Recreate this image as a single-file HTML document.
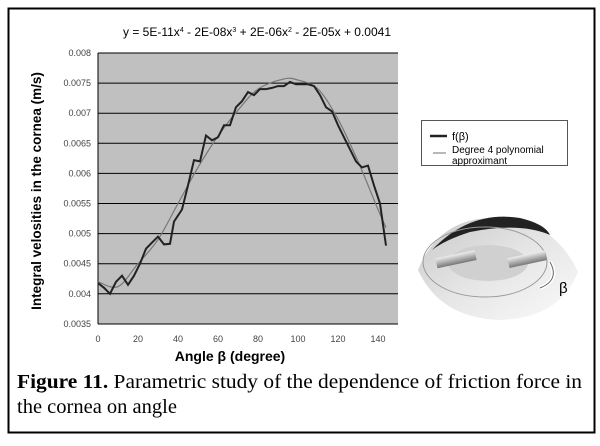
<!DOCTYPE html>
<html><head><meta charset="utf-8"><style>
body{margin:0;background:#fff;width:600px;height:441px;overflow:hidden;font-family:"Liberation Sans",sans-serif}
</style></head><body>
<svg width="600" height="441" xmlns="http://www.w3.org/2000/svg" font-family="Liberation Sans, sans-serif">
<defs>
<linearGradient id="eg" x1="0" y1="0" x2="1" y2="1"><stop offset="0" stop-color="#c8c8c8"/><stop offset="0.5" stop-color="#e6e6e6"/><stop offset="1" stop-color="#fafafa"/></linearGradient>
<linearGradient id="cy" x1="0" y1="0" x2="0" y2="1"><stop offset="0" stop-color="#eee"/><stop offset="1" stop-color="#777"/></linearGradient>
</defs>
<rect x="8.5" y="8.5" width="586" height="424" fill="#fff" stroke="#000" stroke-width="2"/>
<text x="257" y="36" font-size="12" text-anchor="middle">y = 5E-11x<tspan dy="-4" font-size="7">4</tspan><tspan dy="4"> - 2E-08x</tspan><tspan dy="-4" font-size="7">3</tspan><tspan dy="4"> + 2E-06x</tspan><tspan dy="-4" font-size="7">2</tspan><tspan dy="4"> - 2E-05x + 0.0041</tspan></text>
<rect x="98" y="53" width="300" height="271" fill="#c0c0c0"/>
<g id="grid" stroke="#000" stroke-width="1"></g>
<line x1="98" y1="53" x2="98" y2="324" stroke="#000"/>
<line x1="98" y1="324" x2="398" y2="324" stroke="#000"/>
<g id="yl" font-size="9" fill="#444" text-anchor="end"></g>
<g id="xl" font-size="9" fill="#444" text-anchor="middle"></g>
<path id="poly" fill="none" stroke="#777" stroke-width="1.2"/>
<path id="dat" fill="none" stroke="#222" stroke-width="2"/>
<text transform="translate(41,191) rotate(-90)" font-size="13.5" font-weight="bold" text-anchor="middle">Integral velosities in the cornea (m/s)</text>
<text x="230" y="361" font-size="14" font-weight="bold" text-anchor="middle">Angle β (degree)</text>
<rect x="421.5" y="120.5" width="146" height="45" fill="#fff" stroke="#555"/>
<line x1="430" y1="136" x2="447" y2="136" stroke="#222" stroke-width="2.5"/>
<text x="452" y="140" font-size="11">f(β)</text>
<line x1="433" y1="153" x2="446" y2="153" stroke="#888" stroke-width="1.2"/>
<text x="452" y="153" font-size="10">Degree 4 polynomial</text>
<text x="452" y="164" font-size="10">approximant</text>
<g>
<path d="M418 270 Q440 215 500 218 Q555 222 578 272 Q560 318 500 320 Q440 318 418 270Z" fill="url(#eg)"/>
<path d="M432 250 Q470 210 520 218 Q545 224 550 235 Q520 222 470 232 Q445 240 432 250Z" fill="#222"/>
<ellipse cx="485" cy="262" rx="62" ry="35" fill="none" stroke="#999"/>
<ellipse cx="488" cy="263" rx="40" ry="18" fill="#d0d0d0"/>
<rect x="436" y="254" width="40" height="10" fill="url(#cy)" transform="rotate(-12 457 259)"/>
<rect x="508" y="254" width="38" height="10" fill="url(#cy)" transform="rotate(-12 528 259)"/>
<path d="M550 262 Q560 280 540 288" fill="none" stroke="#fff" stroke-width="4"/>
<path d="M550 262 Q560 280 540 288" fill="none" stroke="#666" stroke-width="1"/>
<text x="559" y="293" font-size="15">β</text>
</g>
<text x="17" y="388" font-family="Liberation Serif, serif" font-size="20.5" textLength="565" lengthAdjust="spacingAndGlyphs"><tspan font-weight="bold">Figure 11.</tspan> Parametric study of the dependence of friction force in</text>
<text x="17" y="413" font-family="Liberation Serif, serif" font-size="20.5">the cornea on angle</text>
</svg>
<script>
var X=d=>98+d*2,Y=v=>53+(0.008-v)/0.0005*30.1,ns="http://www.w3.org/2000/svg";
var g=document.getElementById('grid'),yl=document.getElementById('yl'),xl=document.getElementById('xl');
["0.008","0.0075","0.007","0.0065","0.006","0.0055","0.005","0.0045","0.004","0.0035"].forEach(s=>{var y=Y(+s);
if(+s>0.0036){var l=document.createElementNS(ns,'line');l.setAttribute('x1',98);l.setAttribute('x2',398);l.setAttribute('y1',y);l.setAttribute('y2',y);g.appendChild(l);}
var t=document.createElementNS(ns,'text');t.setAttribute('x',91);t.setAttribute('y',y+3);t.textContent=s;yl.appendChild(t);});
for(var d=0;d<=140;d+=20){var t=document.createElementNS(ns,'text');t.setAttribute('x',X(d));t.setAttribute('y',342);t.textContent=d;xl.appendChild(t);}
var D=[[0,.00418],[3,.0041],[6,.004],[9,.0042],[12,.0043],[15,.00415],[18,.0043],[21,.0045],[24,.00475],[27,.00485],[30,.00495],[33,.00482],[36,.00483],[38,.0052],[42,.0054],[45,.0058],[48,.00622],[51,.0062],[54,.00663],[57,.00655],[60,.0066],[63,.0068],[66,.0068],[69,.0071],[72,.0072],[75,.00735],[78,.0073],[81,.0074],[84,.0074],[87,.00742],[90,.00745],[93,.00745],[96,.00752],[99,.00748],[102,.00748],[105,.00748],[108,.00745],[111,.0073],[114,.0071],[117,.00703],[120,.0068],[123,.0066],[126,.0064],[129,.0062],[132,.0061],[135,.00613],[138,.0058],[141,.0055],[144,.0048]];
document.getElementById('dat').setAttribute('d','M'+D.map(p=>X(p[0]).toFixed(1)+' '+Y(p[1]).toFixed(1)).join(' L'));
var P=[[0,.0042],[10,.00412],[20,.0045],[30,.0049],[40,.0055],[50,.0061],[60,.00662],[70,.00705],[80,.0074],[93,.00757],[100,.00755],[110,.0074],[120,.0069],[130,.0062],[140,.0054],[144,.0051]];
var s='M'+X(P[0][0])+' '+Y(P[0][1]);
for(var i=1;i<P.length;i++){var p0=P[Math.max(i-2,0)],p1=P[i-1],p2=P[i],p3=P[Math.min(i+1,P.length-1)];
var c1x=X(p1[0])+(X(p2[0])-X(p0[0]))/6,c1y=Y(p1[1])+(Y(p2[1])-Y(p0[1]))/6,c2x=X(p2[0])-(X(p3[0])-X(p1[0]))/6,c2y=Y(p2[1])-(Y(p3[1])-Y(p1[1]))/6;
s+=' C'+c1x.toFixed(1)+' '+c1y.toFixed(1)+' '+c2x.toFixed(1)+' '+c2y.toFixed(1)+' '+X(p2[0])+' '+Y(p2[1]).toFixed(1);}
document.getElementById('poly').setAttribute('d',s);
</script>
</body></html>
